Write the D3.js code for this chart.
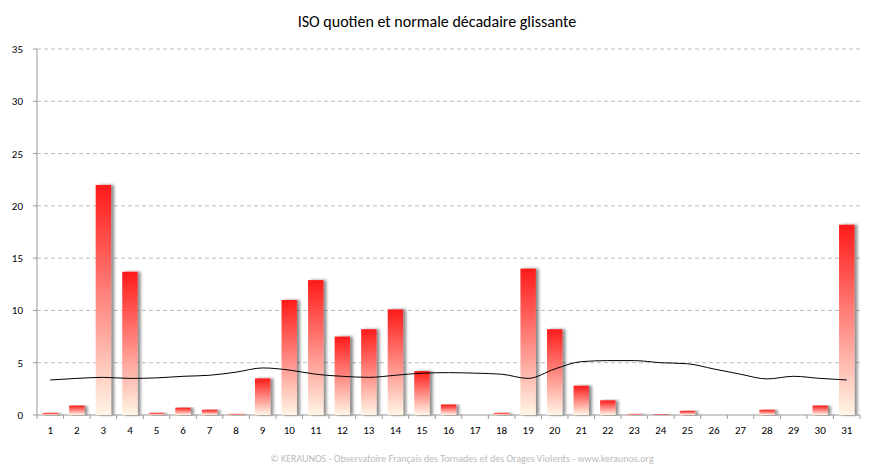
<!DOCTYPE html>
<html><head><meta charset="utf-8">
<script src="https://cdn.jsdelivr.net/npm/d3@7"></script>
<style>body{margin:0;background:#fff;font-family:Calibri,"Liberation Sans",Arial,sans-serif}</style>
</head><body>
<svg id="viz" width="874" height="471"></svg>
<script>
var days = d3.range(1, 32);
var isoValues = [0.2,0.9,22,13.7,0.2,0.7,0.5,0.1,3.5,11,12.9,7.5,8.2,10.1,4.2,1.0,0,0.2,14,8.2,2.8,1.4,0.1,0.05,0.4,0,0,0.5,0,0.9,18.2];
var normalValues = [3.35,3.5,3.6,3.5,3.55,3.7,3.8,4.1,4.5,4.3,3.9,3.7,3.6,3.8,4.0,4.05,4.0,3.9,3.5,4.4,5.1,5.2,5.2,5.0,4.9,4.4,3.9,3.45,3.7,3.5,3.35];
var yTicks = [0,5,10,15,20,25,30,35];

var svg = d3.select("#viz");
var mLeft = 37, mRight = 860, mTop = 49, mBottom = 415;

var x = d3.scaleBand().domain(days).range([mLeft, mRight]).paddingInner(0.42).paddingOuter(0.21);
var y = d3.scaleLinear().domain([0, 35]).range([mBottom, mTop]);

var defs = svg.append("defs");
var grad = defs.append("linearGradient").attr("id", "barGrad").attr("x1", 0).attr("y1", 0).attr("x2", 0).attr("y2", 1);
grad.append("stop").attr("offset", "0%").attr("stop-color", "#ff1a1a");
grad.append("stop").attr("offset", "100%").attr("stop-color", "#fff5e6");
var f = defs.append("filter").attr("id", "shadow").attr("x", "-20%").attr("y", "-5%").attr("width", "160%").attr("height", "110%");
f.append("feDropShadow").attr("dx", 3).attr("dy", 0).attr("stdDeviation", 1.5).attr("flood-color", "#000").attr("flood-opacity", 0.45);

svg.append("text").attr("x", 437).attr("y", 27).attr("text-anchor", "middle")
    .attr("font-size", 16).attr("fill", "#000").text("ISO quotien et normale décadaire glissante");

svg.selectAll("line.grid").data(yTicks.slice(1)).enter().append("line")
    .attr("x1", mLeft).attr("x2", mRight)
    .attr("y1", function(d) { return y(d); }).attr("y2", function(d) { return y(d); })
    .attr("stroke", "#bbb").attr("stroke-dasharray", "4,3");

svg.append("line").attr("x1", mLeft).attr("x2", mLeft).attr("y1", mTop).attr("y2", mBottom).attr("stroke", "#999");
svg.append("line").attr("x1", mLeft).attr("x2", mRight).attr("y1", mBottom).attr("y2", mBottom).attr("stroke", "#999");

svg.selectAll("text.yt").data(yTicks).enter().append("text")
    .attr("x", mLeft - 14).attr("y", function(d) { return y(d) + 4; })
    .attr("text-anchor", "end").attr("font-size", 11).text(function(d) { return d; });
svg.selectAll("line.yk").data(yTicks).enter().append("line")
    .attr("x1", mLeft - 4).attr("x2", mLeft).attr("y1", function(d) { return y(d); }).attr("y2", function(d) { return y(d); })
    .attr("stroke", "#999");

svg.selectAll("text.xt").data(days).enter().append("text")
    .attr("x", function(d) { return x(d) + x.bandwidth() / 2; }).attr("y", mBottom + 19)
    .attr("text-anchor", "middle").attr("font-size", 11).text(function(d) { return d; });
svg.selectAll("line.xk").data(days.concat([32])).enter().append("line")
    .attr("x1", function(d) { return mLeft + (d - 1) * x.step(); })
    .attr("x2", function(d) { return mLeft + (d - 1) * x.step(); })
    .attr("y1", mBottom).attr("y2", mBottom + 4).attr("stroke", "#999");

svg.selectAll("rect.bar").data(isoValues).enter().append("rect")
    .attr("x", function(d, i) { return x(days[i]); })
    .attr("y", function(d) { return y(d); })
    .attr("width", x.bandwidth())
    .attr("height", function(d) { return mBottom - y(d); })
    .attr("fill", "url(#barGrad)")
    .attr("filter", "url(#shadow)");

var line = d3.line()
    .x(function(d, i) { return x(days[i]) + x.bandwidth() / 2; })
    .y(function(d) { return y(d); })
    .curve(d3.curveMonotoneX);
svg.append("path").datum(normalValues).attr("d", line).attr("fill", "none").attr("stroke", "#000").attr("stroke-width", 1);

svg.append("text").attr("x", 462).attr("y", 462).attr("text-anchor", "middle").attr("font-size", 10).attr("fill", "#bbb")
    .text("© KERAUNOS - Observatoire Français des Tornades et des Orages Violents - www.keraunos.org");
</script>
</body></html>
